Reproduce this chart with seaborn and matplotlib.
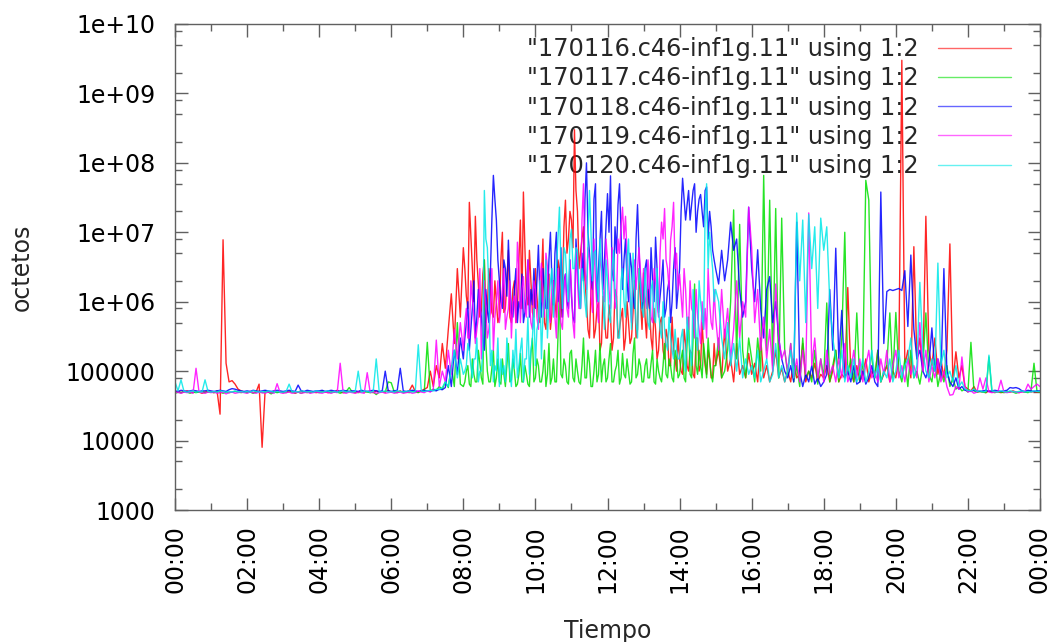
import numpy as np
import pandas as pd
import matplotlib
matplotlib.use("Agg")
import matplotlib.pyplot as plt
from matplotlib.ticker import FixedLocator, NullFormatter
import seaborn as sns

# Traffic samples every 5 minutes, 00:00 -> 24:00 (289 points per day)
minutes = list(range(0, 24 * 60 + 1, 5))
# Extra half-step samples logged during the busy hours 08:00 -> 15:00
busy_minutes = [482.5 + 5 * k for k in range(84)]

days = ['"170116.c46-inf1g.11" using 1:2',
        '"170117.c46-inf1g.11" using 1:2',
        '"170118.c46-inf1g.11" using 1:2',
        '"170119.c46-inf1g.11" using 1:2',
        '"170120.c46-inf1g.11" using 1:2']

octets_170116 = [
    50e3, 51e3, 49e3, 50e3, 52e3, 50e3, 49e3, 51e3, 50e3, 48e3, 50e3, 51e3,
    50e3, 49e3, 52e3, 24e3, 7.8e6, 1.3e5, 7e4, 7.3e4, 6.5e4, 5.5e4, 52e3, 50e3,
    50e3, 51e3, 49e3, 50e3, 6.5e4, 8e3, 52e3, 50e3, 49e3, 51e3, 50e3, 50e3,
    49e3, 50e3, 51e3, 50e3, 48e3, 50e3, 52e3, 50e3, 49e3, 51e3, 50e3, 49e3,
    50e3, 52e3, 50e3, 49e3, 51e3, 50e3, 53e3, 50e3, 49e3, 50e3, 51e3, 50e3,
    49e3, 50e3, 52e3, 50e3, 51e3, 50e3, 49e3, 52e3, 50e3, 51e3, 50e3, 53e3,
    50e3, 51e3, 50e3, 52e3, 49e3, 50e3, 52e3, 6.3e4, 51e3, 50e3, 52e3, 55e3,
    58e3, 1e5, 6e4, 1.2e5, 8e4, 2.5e5, 1.1e5, 4e5, 1.3e6, 2.5e5, 3e6, 6e5,
    6e6, 1.2e6, 2.7e7, 3e6, 1.7e7, 1.8e6, 7.5e5, 4e6, 8e5, 1.5e6, 6e5, 1e6,
    6e5, 1e7, 8e5, 5.5e6, 5e5, 2e6, 7e5, 1.5e7, 3.8e7, 1.2e6, 5.5e6, 7e5,
    3e6, 6e5, 2e6, 5e5, 1.5e6, 4e5, 2e6, 6e5, 3e6, 1.5e6, 2.9e7, 8e6,
    1.5e7, 3e8, 2e7, 5e6, 1.2e7, 1e6, 3e5, 2e6, 4e5, 1e6, 2.5e5, 6e5,
    3e5, 6e5, 3e5, 1.2e6, 4e5, 8e5, 3e5, 5e5, 3e5, 2e6, 4e5, 1e6,
    2.6e6, 3e5, 8e5, 2e5, 4e5, 2e5, 6e5, 1.5e5, 3e5, 1.2e5, 2e5, 1e5,
    1.5e5, 9e4, 2.5e5, 1e5, 1.8e5, 8e4, 3e5, 1.2e5, 2e5, 9e4, 1.5e5, 8e4,
    1.2e5, 2e5, 8e4, 4e5, 1e5, 1.5e5, 7e4, 2.5e5, 9e4, 1.2e5, 8e4, 1.8e5,
    9e4, 1.3e5, 7e4, 3e5, 8e4, 1.2e5, 7e4, 1e5, 2e5, 8e4, 1.1e5, 7e4,
    1e5, 7e4, 1.5e5, 8e4, 9e4, 2.5e5, 7e4, 1e5, 8e4, 1.3e5, 7e4, 9e4,
    8e4, 1.2e5, 7e4, 1e5, 2e5, 7e4, 9e4, 8e4, 1.6e6, 1e5, 7e4, 1.2e5,
    7e4, 9e4, 1.5e5, 7e4, 1e5, 8e4, 2e5, 7e4, 9e4, 1.2e5, 7e4, 1e5,
    8e4, 1.5e5, 3e9, 1.2e5, 2e5, 8e4, 6.2e6, 1.5e5, 3e5, 1e5, 1.7e7, 2e5,
    1.2e5, 3e5, 9e4, 1.5e5, 8e4, 2e5, 6.8e6, 7e4, 1.9e5, 8e4, 1.2e5, 6e4,
    55e3, 52e3, 6e4, 50e3, 51e3, 50e3, 49e3, 52e3, 50e3, 51e3, 50e3, 49e3,
    50e3, 51e3, 50e3, 52e3, 50e3, 49e3, 51e3, 50e3, 52e3, 50e3, 51e3, 50e3,
    50e3]

busy_170116 = [
    3e6, 8e5, 9e6, 1e6, 4e6, 6e5, 2.5e6, 5e5, 3e6, 7e5, 2e6, 5e5,
    4e6, 7e5, 2e6, 6e5, 1.5e6, 5e5, 4e6, 8e5, 6e6, 9e5, 2e6, 6e5,
    1.2e6, 5e5, 8e6, 4e5, 2.5e6, 7e5, 1e6, 4e6, 6e5, 1.2e7, 5e6, 2e7,
    6e6, 4e7, 3e6, 8e6, 2e6, 4e5, 1.5e6, 3e5, 8e5, 2e5, 1.2e6, 3e5,
    9e5, 2e5, 1.5e6, 3e5, 6e5, 2e5, 1e6, 2.5e5, 7e5, 3e5, 3e6, 4e5,
    6e5, 1.5e6, 3e5, 8e5, 1.5e5, 5e5, 2e5, 4e5, 1.2e5, 6e5, 1.5e5, 3e5,
    1e5, 4e5, 1.2e5, 2e5, 9e4, 3e5, 1e5, 5e5, 1.2e5, 2e5, 8e4, 2.5e5]

octets_170117 = [
    48e3, 50e3, 49e3, 51e3, 50e3, 48e3, 50e3, 49e3, 50e3, 51e3, 49e3, 50e3,
    50e3, 49e3, 51e3, 50e3, 48e3, 50e3, 49e3, 50e3, 51e3, 50e3, 49e3, 50e3,
    49e3, 50e3, 48e3, 50e3, 51e3, 49e3, 50e3, 50e3, 47e3, 50e3, 49e3, 50e3,
    50e3, 49e3, 51e3, 50e3, 49e3, 50e3, 48e3, 50e3, 51e3, 49e3, 50e3, 50e3,
    49e3, 50e3, 51e3, 50e3, 49e3, 50e3, 50e3, 48e3, 50e3, 51e3, 58e3, 50e3,
    50e3, 49e3, 50e3, 51e3, 50e3, 49e3, 50e3, 46e3, 50e3, 51e3, 50e3, 70e3,
    68e3, 50e3, 49e3, 51e3, 50e3, 50e3, 49e3, 51e3, 50e3, 49e3, 52e3, 51e3,
    2.6e5, 52e3, 55e3, 53e3, 6e4, 5.5e4, 7e4, 5.8e4, 1.2e5, 6e4, 5e5, 6.5e4,
    6e4, 1e5, 6.5e4, 1.5e5, 7e4, 2e5, 8e4, 4e6, 1e5, 7e4, 2e5, 8e4,
    7e4, 1.5e5, 6e4, 2.5e5, 7.5e4, 1e5, 6.5e4, 1.8e5, 7e4, 9e4, 6e4, 3e5,
    8e4, 1.2e5, 7e4, 2e5, 9e4, 6.5e4, 1.5e5, 7e4, 1.5e6, 8e4, 1.2e5, 6.5e4,
    2e5, 7e4, 1e5, 6.5e4, 3e5, 8e4, 1.3e5, 6e4, 2e5, 9e4, 7e4, 1.5e5,
    8e4, 2.5e5, 7e4, 1.2e5, 6.5e4, 1.8e5, 8e4, 1e5, 7e4, 3e5, 9e4, 1.2e5,
    7e4, 1.5e5, 8e4, 2e5, 6.5e4, 1e5, 7e4, 2.5e5, 8e4, 1.2e5, 7e4, 1.5e5,
    9e4, 2e5, 7e4, 6e5, 8e4, 1.8e6, 9e4, 1.2e5, 2.5e5, 8e4, 1.5e5, 7e4,
    1.2e5, 3e5, 8e4, 1e5, 2e5, 1e6, 2.1e7, 1.5e5, 1.3e7, 2e5, 8e4, 3e5,
    1.5e5, 7e4, 3e5, 1e5, 6.6e7, 2e5, 2.9e7, 1.2e5, 2.2e7, 8e4, 1.6e7, 2e5,
    9e4, 2.5e5, 7e4, 1.2e5, 6e4, 3e5, 8e4, 1e5, 7e4, 2e5, 6.5e4, 1.5e5,
    8e4, 9.6e5, 7e4, 1.2e5, 2e5, 7e4, 3e5, 1e7, 9e4, 1.5e5, 7e4, 6.9e5,
    7e4, 1.2e5, 5.6e7, 2.9e7, 1.5e5, 8e4, 2e5, 7e4, 1e5, 1.2e5, 6.9e5, 8e4,
    7e5, 1e5, 7e4, 1.5e5, 6e4, 2e5, 8e4, 1e5, 6.5e4, 1.2e5, 6.9e5, 9e4,
    7e4, 1.5e5, 6e4, 1e5, 7e4, 1.2e5, 6e4, 8e4, 5.5e4, 6e4, 52e3, 55e3,
    50e3, 2.6e5, 52e3, 50e3, 51e3, 50e3, 49e3, 1.6e5, 50e3, 49e3, 51e3, 50e3,
    49e3, 50e3, 51e3, 50e3, 48e3, 50e3, 51e3, 50e3, 49e3, 52e3, 1.3e5, 51e3,
    50e3]

busy_170117 = [
    7e4, 1.2e5, 6e4, 9e4, 7e4, 1.3e5, 6.5e4, 2.5e5, 7e4, 1.1e5, 6e4, 1.5e5,
    6.5e4, 9e4, 1.2e5, 7e4, 1.5e5, 6e4, 9e4, 7e4, 1.2e5, 6.5e4, 1.8e5, 7e4,
    1.5e5, 7e4, 1e5, 6e4, 2.5e5, 8e4, 7e4, 3e5, 9e4, 1.5e5, 7e4, 1.8e5,
    8e4, 1.5e5, 7e4, 1.2e5, 8e4, 2e5, 6e4, 1e5, 7e4, 2.5e5, 1.2e5, 7e4,
    1.5e5, 7e4, 1e5, 2e5, 8e4, 9e4, 1.5e5, 6.5e4, 1.8e5, 8e4, 1.5e5, 7e4,
    1.2e5, 8e4, 1.3e5, 7e4, 1.5e5, 8e4, 1.2e5, 9e4, 1.5e5, 8e4, 2e5, 8e4,
    1.5e5, 8e4, 2.5e5, 9e4, 3e5, 1.2e5, 2e5, 8e4, 1.5e5, 3e5, 9e4, 1.2e5]

octets_170118 = [
    52e3, 51e3, 53e3, 52e3, 51e3, 52e3, 53e3, 52e3, 51e3, 52e3, 52e3, 53e3,
    52e3, 51e3, 52e3, 53e3, 52e3, 51e3, 54e3, 56e3, 55e3, 53e3, 52e3, 51e3,
    52e3, 51e3, 53e3, 52e3, 51e3, 52e3, 53e3, 52e3, 51e3, 52e3, 53e3, 52e3,
    51e3, 52e3, 53e3, 52e3, 51e3, 6.3e4, 52e3, 51e3, 53e3, 52e3, 51e3, 52e3,
    52e3, 53e3, 51e3, 52e3, 53e3, 52e3, 51e3, 52e3, 53e3, 52e3, 51e3, 52e3,
    52e3, 51e3, 53e3, 52e3, 51e3, 52e3, 53e3, 52e3, 51e3, 52e3, 1e5, 52e3,
    51e3, 52e3, 53e3, 1.1e5, 52e3, 51e3, 52e3, 53e3, 52e3, 51e3, 52e3, 53e3,
    52e3, 51e3, 53e3, 52e3, 55e3, 54e3, 58e3, 1.2e5, 6e4, 2e5, 9e4, 3e5,
    1.5e5, 5e5, 2e5, 8e5, 3e5, 1.5e6, 6e5, 2e5, 7.5e5, 2.5e6, 6.6e7, 1.5e7,
    2e6, 8e5, 3e6, 7.7e6, 7e5, 1.5e6, 5e5, 8e5, 5e5, 1.2e6, 6e5, 9e5,
    8e5, 6.5e6, 6e5, 1.5e6, 8e5, 1e7, 9e5, 1e7, 1.5e6, 6e5, 2.5e6, 8e5,
    1.2e6, 5e5, 3e6, 8e5, 2e6, 1e8, 5e6, 1.5e6, 5e7, 3e6, 2e7, 4e6,
    3.6e7, 6.5e7, 2e6, 5e6, 5e7, 1.5e6, 8e6, 1e6, 3e6, 8e5, 2.5e7, 2e6,
    1e6, 4e6, 8e5, 2e6, 8.5e6, 7e5, 2e6, 6e5, 1.5e6, 5e5, 3e6, 8e5,
    3e6, 6e7, 1.5e7, 4e7, 2.5e7, 5e7, 2e7, 3.5e7, 1.2e7, 4.5e7, 2e7, 5.5e6,
    3e6, 1.8e6, 5.5e6, 2e6, 4e6, 1.4e7, 5.5e6, 8e6, 1.5e6, 6e5, 1e6, 2.3e7,
    3e6, 1e6, 5.6e6, 8e5, 3e5, 1.5e6, 2.3e6, 5e5, 1e6, 3e5, 1.5e5, 1e5,
    8e4, 1.2e5, 7e4, 1.4e7, 1e5, 6e4, 9e4, 7e4, 1.2e5, 6.5e4, 8e4, 6e4,
    7e4, 9e4, 1.5e6, 2e5, 5.9e6, 1.5e5, 7.5e5, 8e4, 1e5, 7e4, 1.2e5, 6.5e4,
    7e4, 1e5, 6.5e4, 8e4, 1.2e5, 7e4, 6e4, 3.8e7, 2.5e5, 1.4e6, 1.5e6, 1.45e6,
    1.5e6, 1.55e6, 1.45e6, 2.8e6, 4.4e5, 4.7e6, 4e5, 1.5e5, 2e5, 1e5, 8e4, 1.2e5,
    4.2e5, 1e5, 1.5e5, 8e4, 3e6, 1e5, 7e4, 6e4, 8e4, 55e3, 6e4, 53e3,
    52e3, 51e3, 53e3, 52e3, 51e3, 52e3, 53e3, 51e3, 52e3, 53e3, 52e3, 51e3,
    52e3, 53e3, 58e3, 57e3, 58e3, 56e3, 52e3, 51e3, 53e3, 52e3, 51e3, 52e3,
    52e3]

busy_170118 = [
    3e5, 1e6, 4e5, 2e6, 6e5, 1e6, 3e5, 1.5e6, 5e5, 1.5e7, 3e7, 4e6,
    1e6, 4e6, 1.2e6, 2e6, 6e5, 3e6, 1e6, 2.5e6, 7e5, 4e6, 1.5e6, 3e6,
    2e6, 1.2e6, 3e6, 8e5, 4e6, 2e6, 5e6, 1e6, 6e6, 2e6, 1e6, 4e6,
    6e5, 8e6, 1.2e6, 5e6, 3e7, 1e7, 2.5e6, 3e7, 1e6, 8e6, 1.5e6, 1.2e7,
    1e7, 3e6, 1.2e7, 2.5e7, 1e7, 4e6, 2e6, 5e6, 1.2e6, 8e6, 5e6, 8e5,
    3e6, 1.5e6, 6e6, 1e6, 3e6, 1.2e6, 4e6, 8e5, 2e6, 1e6, 6e6, 1.5e6,
    2e7, 3e7, 2.5e7, 1.5e7, 4e7, 1e7, 3e7, 2e7, 4e7, 8e6, 1.2e7, 4e6]

octets_170119 = [
    49e3, 50e3, 48e3, 50e3, 49e3, 50e3, 48e3, 1.1e5, 50e3, 49e3, 48e3, 50e3,
    49e3, 50e3, 48e3, 49e3, 50e3, 47e3, 49e3, 50e3, 48e3, 49e3, 50e3, 49e3,
    48e3, 50e3, 49e3, 48e3, 50e3, 49e3, 48e3, 50e3, 49e3, 48e3, 6.6e4, 49e3,
    48e3, 49e3, 50e3, 48e3, 49e3, 50e3, 48e3, 49e3, 50e3, 48e3, 49e3, 50e3,
    49e3, 48e3, 50e3, 49e3, 48e3, 50e3, 49e3, 1.3e5, 49e3, 48e3, 50e3, 49e3,
    48e3, 50e3, 49e3, 48e3, 9.5e4, 49e3, 50e3, 48e3, 49e3, 50e3, 48e3, 49e3,
    50e3, 48e3, 49e3, 50e3, 48e3, 49e3, 50e3, 48e3, 49e3, 52e3, 50e3, 49e3,
    52e3, 50e3, 55e3, 2.8e5, 60e3, 1e5, 70e3, 2e5, 9e4, 4e5, 1.5e5, 5e5,
    2e5, 8e5, 3e5, 1.1e6, 2.5e5, 6e5, 1.5e5, 2e6, 3e5, 7e5, 2e5, 1e6,
    5e5, 1.5e6, 4e5, 8e5, 3e5, 1.2e6, 7.2e6, 5e5, 2.3e6, 6e5, 1e6, 4e5,
    1.5e6, 4e5, 3.6e6, 6e5, 3.2e6, 5e5, 2e6, 3e5, 1e6, 4e5, 2.5e6, 6e5,
    1.5e6, 3e5, 2e6, 8e5, 5e7, 1.5e6, 4e6, 7e5, 2e6, 5e5, 3e6, 1e6,
    4e6, 8e5, 3e6, 1e6, 5e6, 2.3e7, 1.7e7, 2e6, 5e5, 4e6, 3e6, 2.6e6,
    3e6, 8e5, 1.5e6, 5e5, 2e6, 6e5, 1.4e7, 2.2e7, 3e6, 7.7e6, 2.7e7, 5e6,
    2.5e6, 6e5, 1.5e6, 4e5, 8e5, 3e5, 6e5, 2.5e5, 4e5, 3e5, 1e6, 4e5,
    6e5, 2e5, 1.5e6, 3e5, 8e5, 1.5e5, 4e5, 2e6, 3e5, 1e6, 6e5, 2.3e7,
    6e6, 5e5, 1.5e6, 2e5, 6e5, 1.5e5, 4e5, 1e5, 1.8e6, 3e5, 1.5e5, 2e5,
    1e5, 2.5e5, 8e4, 1.5e5, 7e4, 2e5, 9e4, 1.9e7, 1.2e5, 3e5, 8e4, 1.5e5,
    7e4, 2e5, 9e4, 1.2e5, 7e4, 1.5e5, 8e4, 2.5e5, 7e4, 1e5, 2e5, 8e4,
    1.5e5, 7e4, 1.2e5, 2e5, 8e4, 1e5, 7e4, 1.5e5, 9e4, 2e5, 7e4, 1.2e5,
    2e5, 8e4, 1.2e5, 7e4, 1.5e5, 9e4, 1.2e5, 8e4, 5e5, 1e5, 2e5, 7e4,
    1.2e5, 8e4, 1.5e5, 7e4, 1e5, 6e4, 45e3, 46e3, 6e4, 55e3, 1.6e5, 6e4,
    50e3, 52e3, 48e3, 50e3, 8e4, 55e3, 8e4, 50e3, 49e3, 50e3, 51e3, 7.4e4,
    50e3, 49e3, 50e3, 51e3, 50e3, 49e3, 50e3, 51e3, 6.5e4, 55e3, 6e4, 6.5e4,
    6e4]

busy_170119 = [
    5e5, 3e5, 2e6, 6e5, 4e5, 3e6, 5e5, 8e5, 4e5, 3e6, 6e5, 2e6,
    8e5, 3e6, 6e5, 2e6, 1e6, 5e5, 3e6, 1.5e6, 8e5, 4e6, 5e5, 2e6,
    6e5, 2e6, 1e6, 5e6, 8e5, 1.5e6, 6e5, 3e6, 5e5, 1.5e6, 8e5, 4e6,
    5e5, 6e6, 8e5, 1.5e7, 3e6, 6e6, 1.2e6, 8e6, 8e5, 5e6, 1.5e6, 8e6,
    1.5e6, 6e6, 8e5, 8e6, 1.2e7, 8e6, 5e6, 1e6, 3e6, 1.5e6, 6e6, 1e6,
    1.2e6, 4e6, 6e5, 3e6, 1e6, 5e6, 8e6, 4e6, 1.5e6, 1.2e7, 3e6, 1.5e6,
    1.2e6, 3e6, 5e5, 2e6, 7e5, 1.5e6, 4e5, 1e6, 8e5, 3e6, 5e5, 1.5e6]

octets_170120 = [
    7e4, 52e3, 7.5e4, 51e3, 50e3, 51e3, 52e3, 50e3, 51e3, 50e3, 7.5e4, 51e3,
    50e3, 51e3, 50e3, 52e3, 51e3, 50e3, 51e3, 50e3, 52e3, 50e3, 51e3, 50e3,
    51e3, 50e3, 52e3, 51e3, 50e3, 51e3, 50e3, 52e3, 51e3, 50e3, 51e3, 50e3,
    50e3, 51e3, 6.5e4, 50e3, 51e3, 50e3, 52e3, 51e3, 50e3, 51e3, 50e3, 52e3,
    51e3, 50e3, 51e3, 52e3, 50e3, 51e3, 50e3, 51e3, 52e3, 50e3, 51e3, 50e3,
    51e3, 1e5, 50e3, 52e3, 51e3, 50e3, 51e3, 1.5e5, 50e3, 51e3, 52e3, 50e3,
    51e3, 50e3, 52e3, 51e3, 50e3, 51e3, 52e3, 50e3, 51e3, 2.4e5, 52e3, 51e3,
    52e3, 53e3, 52e3, 55e3, 54e3, 58e3, 7e4, 6e4, 1.1e5, 2e5, 8e4, 1.5e5,
    9e4, 1.2e5, 2e5, 8e4, 1.5e5, 7e4, 1e5, 4e7, 6e6, 1.2e5, 7e4, 1e5,
    6e4, 9e4, 7e4, 1.5e5, 6e4, 1.1e5, 8e4, 2e5, 7e4, 1.5e5, 9e4, 3e5,
    1.2e5, 5e5, 1.5e5, 1e6, 3e5, 2e6, 6e5, 3e6, 2.3e7, 8e5, 5e6, 1e6,
    1.1e7, 3e6, 5.5e6, 8e5, 2e6, 6e5, 4e7, 2e6, 5.5e6, 1e6, 3e6, 4e5,
    2e6, 5e5, 5.5e6, 1e6, 3e5, 3e6, 6e5, 8e6, 4e5, 1.5e6, 3e5, 1.8e6,
    6e5, 1.2e6, 4e5, 2e6, 5e5, 8e5, 3e5, 4e5, 2e5, 3e5, 1.5e5, 2e5,
    1.5e5, 4e5, 1e5, 3e5, 1.2e5, 6e5, 2e5, 1e6, 4e5, 5e7, 1e7, 3e6,
    1.5e6, 1e6, 3e5, 1.5e5, 5e5, 1.2e5, 2.5e5, 1e5, 3e5, 8e4, 1.5e5, 9e4,
    1.2e5, 8e4, 2e5, 7e4, 1e5, 1.5e5, 7e4, 9e4, 2.5e5, 8e4, 1.2e5, 7e4,
    1e5, 2e5, 8e4, 1.9e7, 2e6, 1.5e7, 5e5, 1.8e7, 3e6, 1.2e7, 8e5, 1.6e7,
    5.5e6, 1.2e7, 1e6, 3e5, 1.5e5, 8e4, 2e5, 7e4, 1.2e5, 8e4, 1.5e5, 7e4,
    9e4, 1.5e5, 7e4, 1e5, 2e5, 8e4, 1.2e5, 7e4, 1e5, 8e4, 1.5e5, 7e4,
    1e5, 2e5, 8e4, 1.2e5, 1.5e5, 3e5, 8e4, 1.2e5, 1.9e6, 2e5, 1e5, 8e4,
    1.5e5, 1e5, 3.6e6, 1.2e5, 2e5, 8e4, 1e5, 7e4, 1.2e5, 6e4, 7e4, 55e3,
    53e3, 52e3, 55e3, 51e3, 52e3, 50e3, 51e3, 1.7e5, 52e3, 51e3, 50e3, 52e3,
    51e3, 50e3, 52e3, 51e3, 50e3, 51e3, 52e3, 50e3, 51e3, 50e3, 52e3, 51e3,
    51e3]

busy_170120 = [
    1e5, 2.5e5, 1.2e5, 1.5e5, 3e5, 1e5, 2e5, 8e6, 1.5e6, 2e5, 1.2e5, 3e5,
    1.5e5, 1.2e5, 3e5, 1e5, 2e5, 4e5, 1.2e5, 3e5, 1.5e5, 6e5, 2e5, 8e5,
    4e5, 2e6, 6e5, 4e6, 1e6, 3e6, 1.5e6, 8e6, 3e6, 6e6, 2e6, 8e6,
    3e6, 6e6, 1.5e6, 3e6, 1e6, 8e6, 1e7, 5e6, 2e6, 8e6, 1.2e6, 4e6,
    6e5, 3e6, 1.5e6, 3e5, 2e6, 1e6, 4e6, 1.5e6, 5e6, 5e5, 3e6, 8e5,
    3e6, 5e5, 1.5e6, 6e5, 3e6, 4e5, 1e6, 2.5e5, 6e5, 2e5, 4e5, 1.5e5,
    3e5, 1.5e5, 6e5, 2e5, 1.5e6, 3e5, 2e6, 6e5, 2e7, 3e6, 5e6, 1e6]

line_colors = ["#ff0000", "#00e000", "#0000ff", "#ff00ff", "#00e8e8"]

hour_ticks = list(range(0, 25, 2))
hour_labels = ["00:00", "02:00", "04:00", "06:00", "08:00", "10:00", "12:00",
               "14:00", "16:00", "18:00", "20:00", "22:00", "00:00"]
y_ticks = [1e3, 1e4, 1e5, 1e6, 1e7, 1e8, 1e9, 1e10]
y_labels = ["1000", "10000", "100000", "1e+06", "1e+07", "1e+08", "1e+09", "1e+10"]

series = [(octets_170116, busy_170116), (octets_170117, busy_170117),
          (octets_170118, busy_170118), (octets_170119, busy_170119),
          (octets_170120, busy_170120)]

frames = []
for name, (vals, busy) in zip(days, series):
    part = pd.DataFrame({"minuto": minutes + busy_minutes,
                         "octetos": vals + busy})
    part = part.sort_values("minuto")
    part["hora"] = part["minuto"] / 60
    part["fichero"] = name
    frames.append(part)
df = pd.concat(frames, ignore_index=True)

sns.set_style("ticks")
plt.rcParams["font.family"] = ["DejaVu Sans"]

fig = plt.figure(figsize=(10.55, 6.42), dpi=100)
ax = fig.add_axes([175 / 1055, 1 - 510 / 642, 865 / 1055, 486 / 642])

sns.lineplot(data=df, x="hora", y="octetos", hue="fichero", hue_order=days,
             palette=line_colors, estimator=None, sort=False, linewidth=1.0,
             alpha=0.85, legend=False, ax=ax)

ax.set_yscale("log")
ax.set_ylim(1e3, 1e10)
ax.set_xlim(0, 24)

ax.yaxis.set_major_locator(FixedLocator(y_ticks))
ax.set_yticklabels(y_labels)
minor_y = [m * 10 ** e for e in range(3, 10) for m in (2, 5, 8)]
ax.yaxis.set_minor_locator(FixedLocator(minor_y))
ax.yaxis.set_minor_formatter(NullFormatter())

ax.set_xticks(hour_ticks)
ax.set_xticklabels(hour_labels, rotation=90)
ax.xaxis.set_minor_locator(FixedLocator(list(range(1, 24, 2))))

edge = "#606060"
for sp in ax.spines.values():
    sp.set_visible(True)
    sp.set_color(edge)
    sp.set_linewidth(1.0)

ax.tick_params(which="both", direction="in", top=True, right=True, color=edge,
               width=1.0, labelcolor="black")
ax.tick_params(which="major", length=9)
ax.tick_params(which="minor", length=5)
ax.tick_params(axis="y", which="major", labelsize=17, pad=14)
ax.tick_params(axis="x", which="major", labelsize=17, pad=11)

ax.set_xlabel("Tiempo", fontsize=17)
ax.set_ylabel("octetos", fontsize=17)
ax.xaxis.set_label_coords(0.5, -0.225)
ax.yaxis.set_label_coords(-0.163, 0.5)

handles = ax.get_lines()[:5]
leg = ax.legend(handles, days, loc="upper right", frameon=False,
                markerfirst=False, fontsize=17.3, handlelength=3.05,
                handletextpad=0.8, labelspacing=0.22, borderpad=0,
                borderaxespad=0,
                bbox_to_anchor=(1011 / 1055, 1 - 37 / 642),
                bbox_transform=fig.transFigure)
leg.set_zorder(1)
for h in leg.legend_handles:
    h.set_linewidth(1.0)
    h.set_alpha(0.6)

fig.savefig("out.png", dpi=100, facecolor="white")
